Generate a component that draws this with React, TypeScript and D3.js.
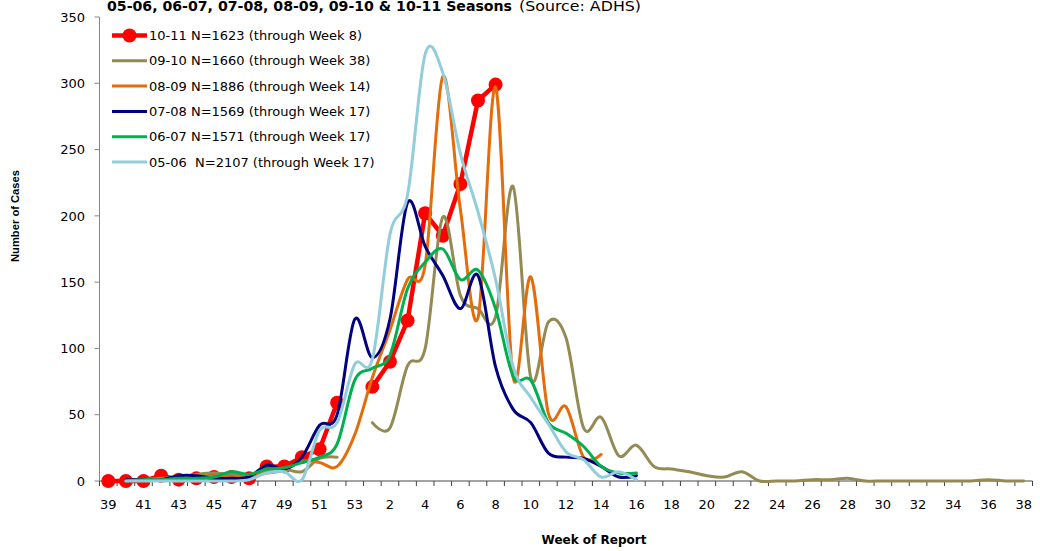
import React from 'react';
import * as d3 from 'd3';

// Week of report categories (MMWR weeks, season starts at week 39)
const weeks: string[] = [
  '39', '40', '41', '42', '43', '44', '45', '46', '47', '48', '49', '50', '51', '52', '53',
  '1', '2', '3', '4', '5', '6', '7', '8', '9', '10', '11', '12', '13', '14', '15', '16', '17', '18', '19', '20',
  '21', '22', '23', '24', '25', '26', '27', '28', '29', '30', '31', '32', '33', '34', '35', '36', '37', '38',
];

const yTicks: number[] = [0, 50, 100, 150, 200, 250, 300, 350];

type V = number | null;
const _ = null;

// 10-11 (through week 8)
const s1011: V[] = [0, 0, 0, 4, 1, 2, 3, 3, 2, 11, 11, 18, 24, 59, _,
  71, 90, 121, 202, 185, 224, 287, 299];
// 09-10 (through week 38)
const s0910: V[] = [_, 1, 1, 2, 3, 5, 6, 5, 5, 8, 9, 7, 17, 18, _,
  44, 40, 87, 100, 199, 140, 130, 124, 222, 78, 120, 108, 40, 48, 19, 27, 11, 9, 7, 4,
  3, 7, 0, 0, 0, 1, 1, 2, 0, 0, 0, 0, 0, 0, 0, 1, 0, 0];
// 08-09 (through week 14)
const s0809: V[] = [_, 1, 1, 1, 2, 3, 4, 3, 3, 6, 8, 15, 14, 11, 35,
  78, 114, 152, 163, 305, 205, 123, 297, 78, 154, 51, 56, 18, 20];
// 07-08 (through week 17)
const s0708: V[] = [_, 1, 1, 1, 4, 4, 2, 2, 3, 12, 9, 18, 42, 50, 122,
  93, 122, 210, 177, 155, 130, 155, 86, 54, 44, 21, 18, 17, 11, 3, 4];
// 06-07 (through week 17)
const s0607: V[] = [_, 0, 1, 1, 2, 2, 3, 7, 5, 9, 10, 14, 18, 28, 76,
  85, 95, 145, 165, 175, 152, 159, 130, 79, 76, 44, 36, 26, 11, 6, 6];
// 05-06 (through week 17)
const s0506: V[] = [_, 0, 0, 0, 0, 0, 0, 0, 1, 6, 7, 1, 38, 44, 88,
  92, 186, 216, 322, 308, 247, 203, 152, 86, 63, 43, 22, 16, 3, 7, 1];

const seriesNames: string[] = [
  '10-11 N=1623 (through Week 8)',
  '09-10 N=1660 (through Week 38)',
  '08-09 N=1886 (through Week 14)',
  '07-08 N=1569 (through Week 17)',
  '06-07 N=1571 (through Week 17)',
  '05-06  N=2107 (through Week 17)',
];
const seriesColors: string[] = ['#FF0000', '#948A54', '#E46C0A', '#000080', '#00B050', '#92CDDC'];
const seriesData: V[][] = [s1011, s0910, s0809, s0708, s0607, s0506];

const W = 1040;
const H = 551;
const left = 99.5;
const right = 1032.5;
const top = 17;
const bottom = 481;
const axisColor = '#868686';
const font = '"DejaVu Sans", Verdana, sans-serif';

export default function App() {
  const x = d3.scaleBand<string>().domain(weeks).range([left, right]).paddingInner(0).paddingOuter(0);
  const bw = x.bandwidth();
  const cx = (i: number) => (x(weeks[i]) as number) + bw / 2;
  const y = d3.scaleLinear().domain([0, 350]).range([bottom, top]);

  const smooth = d3.line<V>()
    .defined((d) => d != null)
    .x((_d, i) => cx(i))
    .y((d) => y(d as number))
    .curve(d3.curveCardinal.tension(0));
  const straight = d3.line<V>()
    .defined((d) => d != null)
    .x((_d, i) => cx(i))
    .y((d) => y(d as number))
    .curve(d3.curveLinear);

  const boundaries = d3.range(weeks.length + 1).map((i) => left + i * bw);

  const legendX0 = 112;
  const legendX1 = 147;
  const legendY0 = 35.5;
  const legendDy = 25.3;

  return (
    <svg width={W} height={H} style={{ position: 'absolute', left: 0, top: 0, background: '#fff' }}>
      {/* Title (partially cropped at top, as in the source) */}
      <text x={107} y={11} fontFamily={font} fontWeight="bold" fontSize={14} fill="#000"
        textLength={405} lengthAdjust="spacingAndGlyphs">
        05-06, 06-07, 07-08, 08-09, 09-10 &amp; 10-11 Seasons
      </text>
      <text x={519} y={11} fontFamily={font} fontSize={14} fill="#000"
        textLength={122} lengthAdjust="spacingAndGlyphs">
        (Source: ADHS)
      </text>

      {/* Axes */}
      <line x1={left} x2={left} y1={top} y2={bottom} stroke={axisColor} strokeWidth={1} />
      {yTicks.map((t) => (
        <g key={'yt' + t}>
          <line x1={left - 5} x2={left} y1={y(t)} y2={y(t)} stroke={axisColor} strokeWidth={1} />
          <text x={85} y={y(t)} dy="0.36em" textAnchor="end" fontFamily={font} fontSize={13} fill="#000">{t}</text>
        </g>
      ))}
      <line x1={left} x2={right} y1={bottom} y2={bottom} stroke={axisColor} strokeWidth={1.3} />
      {boundaries.map((b, i) => (
        <line key={'xt' + i} x1={b} x2={b} y1={bottom} y2={bottom + 5} stroke="#404040" strokeWidth={1} />
      ))}
      {weeks.map((w, i) => (i % 2 === 0 ? (
        <text key={'xl' + w} x={cx(i)} y={509} textAnchor="middle" fontFamily={font} fontSize={13} fill="#000">{w}</text>
      ) : null))}

      {/* Axis titles */}
      <text x={594} y={544} textAnchor="middle" fontFamily={font} fontWeight="bold" fontSize={12} fill="#000">Week of Report</text>
      <text transform="translate(19,216) rotate(-90)" textAnchor="middle" fontFamily='"Liberation Sans", Arial, sans-serif'
        fontWeight="bold" fontSize={11.2} fill="#000">Number of Cases</text>

      {/* Series: red first (bottom), light blue last (top) */}
      {seriesData.map((data, si) => {
        if (si === 0) {
          return (
            <g key="s0">
              <path d={straight(data) || ''} fill="none" stroke={seriesColors[0]} strokeWidth={4.5} strokeLinejoin="round" />
              {data.map((d, i) => (d == null ? null : (
                <circle key={i} cx={cx(i)} cy={y(d)} r={7} fill={seriesColors[0]} />
              )))}
            </g>
          );
        }
        return (
          <path key={'s' + si} d={smooth(data) || ''} fill="none" stroke={seriesColors[si]} strokeWidth={3}
            strokeLinejoin="round" strokeLinecap="round" />
        );
      })}

      {/* Legend */}
      {seriesNames.map((name, i) => {
        const ly = legendY0 + i * legendDy;
        return (
          <g key={'lg' + i}>
            <line x1={legendX0} x2={legendX1} y1={ly} y2={ly} stroke={seriesColors[i]} strokeWidth={i === 0 ? 4.5 : 3} />
            {i === 0 ? <circle cx={(legendX0 + legendX1) / 2} cy={ly} r={7} fill={seriesColors[0]} /> : null}
            <text x={149} y={ly} dy="0.36em" fontFamily={font} fontSize={13} fill="#000" style={{ whiteSpace: 'pre' }}>{name}</text>
          </g>
        );
      })}
    </svg>
  );
}
